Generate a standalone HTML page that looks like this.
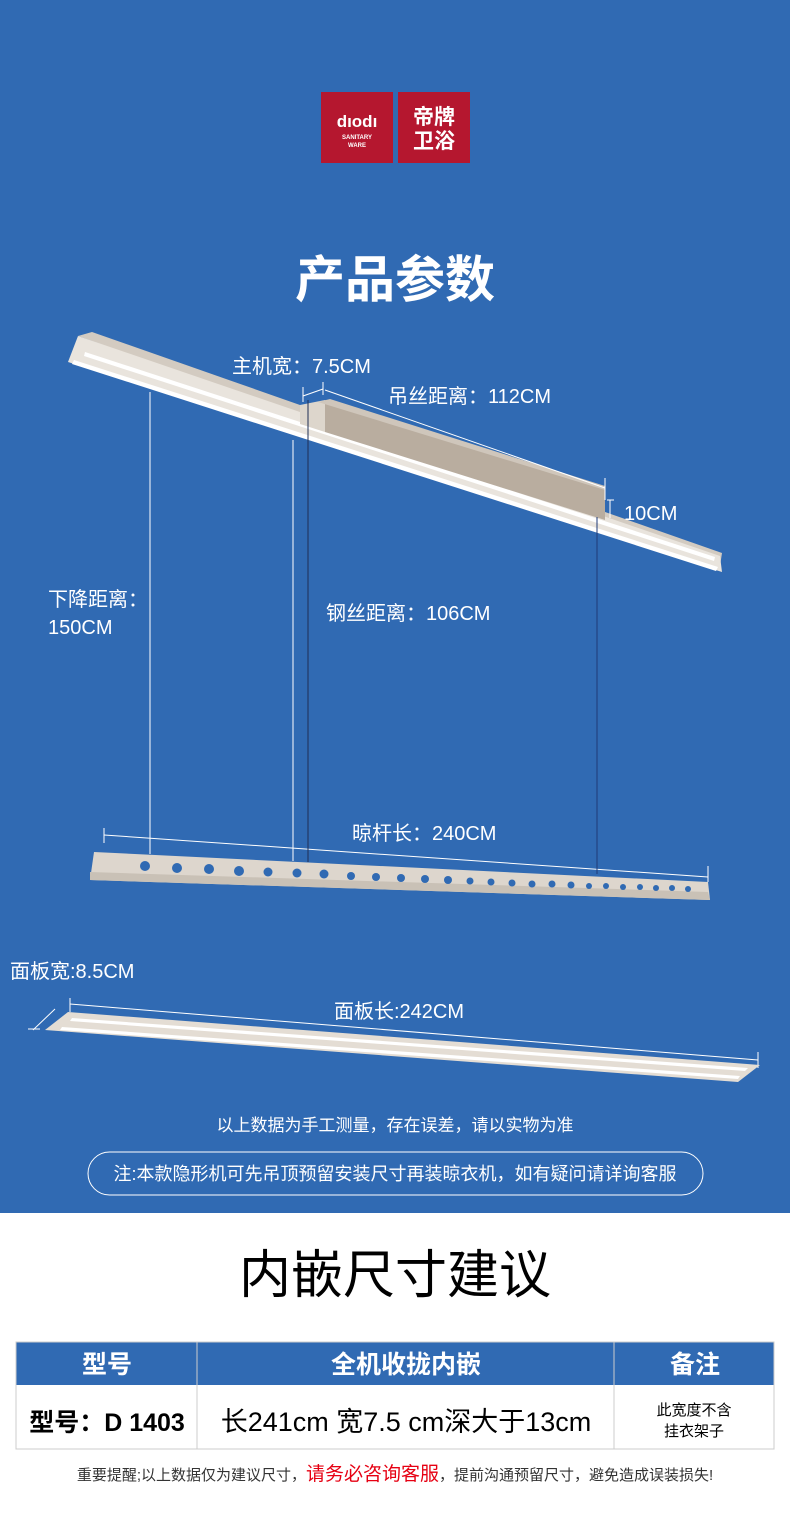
<!DOCTYPE html>
<html><head><meta charset="utf-8"><style>
body{margin:0;width:790px;height:1512px;overflow:hidden;background:#fff;font-family:"Liberation Sans","Noto Sans CJK SC",sans-serif}
svg text{font-family:"Liberation Sans","Noto Sans CJK SC",sans-serif}
</style></head><body>
<svg width="790" height="1512" viewBox="0 0 790 1512" xmlns="http://www.w3.org/2000/svg">
<rect x="0" y="0" width="790" height="1213" fill="#306ab3"/>
<rect x="0" y="1213" width="790" height="299" fill="#fff"/>
<!-- logo -->
<rect x="321" y="92" width="72" height="71" fill="#b5172f"/>
<rect x="398" y="92" width="72" height="71" fill="#b5172f"/>
<text x="357" y="127" fill="#fff" font-size="17" font-weight="bold" text-anchor="middle">dıodı</text>
<text x="357" y="139" fill="#fff" font-size="6" font-weight="bold" text-anchor="middle">SANITARY</text>
<text x="357" y="147" fill="#fff" font-size="6" font-weight="bold" text-anchor="middle">WARE</text>
<text x="434" y="124" fill="#fff" font-size="21" font-weight="bold" text-anchor="middle">帝牌</text>
<text x="434" y="148" fill="#fff" font-size="21" font-weight="bold" text-anchor="middle">卫浴</text>
<text x="395" y="297" fill="#fff" font-size="50" font-weight="bold" text-anchor="middle">产品参数</text>
<!-- top rail -->
<polygon points="78,336 92,332 722,553 720,566" fill="#d3cbc1"/>
<polygon points="68,362 78,336 720,556 722,572" fill="#e9e4dd"/>
<polygon points="74,360 718,567 716,571 72,364" fill="#fff"/>
<polygon points="85,352 715,557 714,561 84,356" fill="#fff"/>
<polygon points="300,405 325,400 325,432 300,424" fill="#ddd6cc"/>
<polygon points="325,400 605,488 605,520 325,432" fill="#b9ad9f"/>
<polygon points="318,402 330,399 605,486 605,490" fill="#cfc6bb"/>
<!-- dims top -->
<g stroke="#fff" stroke-width="1" fill="none">
<polyline points="303,387 303,402"/>
<polyline points="323,382 323,395"/>
<line x1="303" y1="396" x2="323" y2="389"/>
<line x1="325" y1="390" x2="605" y2="488"/>
<line x1="605" y1="478" x2="605" y2="500"/>
<line x1="607" y1="500" x2="614" y2="500"/>
<line x1="610" y1="500" x2="610" y2="518"/>
<line x1="104" y1="828" x2="104" y2="843"/>
<line x1="104" y1="835" x2="708" y2="877"/>
<line x1="708" y1="866" x2="708" y2="882"/>
<line x1="150" y1="392" x2="150" y2="854"/>
<line x1="293" y1="440" x2="293" y2="861"/>
<line x1="70" y1="998" x2="70" y2="1012"/>
<line x1="70" y1="1004" x2="758" y2="1060"/>
<line x1="758" y1="1052" x2="758" y2="1068"/>
<line x1="33" y1="1030" x2="55" y2="1009"/>
<line x1="28" y1="1029" x2="40" y2="1029"/>
</g>
<line x1="308" y1="400" x2="308" y2="862" stroke="#1f2f55" stroke-width="1"/>
<line x1="597" y1="517" x2="597" y2="874" stroke="#1f3a77" stroke-width="1"/>
<g fill="#fff" font-size="20">
<text x="232" y="373">主机宽：7.5CM</text>
<text x="388" y="403">吊丝距离：112CM</text>
<text x="624" y="520">10CM</text>
<text x="48" y="606">下降距离：</text>
<text x="48" y="634">150CM</text>
<text x="326" y="620">钢丝距离：106CM</text>
<text x="352" y="840">晾杆长：240CM</text>
<text x="10" y="978">面板宽:8.5CM</text>
<text x="334" y="1018">面板长:242CM</text>
</g>
<!-- lower bar -->
<polygon points="94,852 708,882 710,900 90,880" fill="#ddd6cd"/>
<polygon points="90,872 708,892 710,900 90,880" fill="#c9c1b6"/>
<g fill="#306ab3">
<circle cx="145" cy="866" r="5"/><circle cx="177" cy="868" r="5"/><circle cx="209" cy="869" r="5"/><circle cx="239" cy="871" r="5"/><circle cx="268" cy="872" r="4.5"/><circle cx="297" cy="873" r="4.5"/><circle cx="324" cy="874" r="4.5"/><circle cx="351" cy="876" r="4"/><circle cx="376" cy="877" r="4"/><circle cx="401" cy="878" r="4"/><circle cx="425" cy="879" r="4"/><circle cx="448" cy="880" r="4"/><circle cx="470" cy="881" r="3.5"/><circle cx="491" cy="882" r="3.5"/><circle cx="512" cy="883" r="3.5"/><circle cx="532" cy="884" r="3.5"/><circle cx="552" cy="884" r="3.5"/><circle cx="571" cy="885" r="3.5"/><circle cx="589" cy="886" r="3"/><circle cx="606" cy="886" r="3"/><circle cx="623" cy="887" r="3"/><circle cx="640" cy="887" r="3"/><circle cx="656" cy="888" r="3"/><circle cx="672" cy="888" r="3"/><circle cx="688" cy="889" r="3"/>
</g>
<!-- panel -->
<polygon points="68,1012 760,1065 738,1082 45,1030" fill="#e4ddd4"/>
<polygon points="72,1018 748,1068 745,1071 70,1021" fill="#fff"/>
<polygon points="62,1027 740,1076 738,1079 60,1030" fill="#fff"/>
<text x="395" y="1131" fill="#fff" font-size="17" text-anchor="middle">以上数据为手工测量，存在误差，请以实物为准</text>
<rect x="88" y="1152" width="615" height="43" rx="21.5" fill="none" stroke="#fff" stroke-width="1"/>
<text x="395" y="1180" fill="#fff" font-size="18" text-anchor="middle">注:本款隐形机可先吊顶预留安装尺寸再装晾衣机，如有疑问请详询客服</text>
<text x="395" y="1293" fill="#000" font-size="52" text-anchor="middle">内嵌尺寸建议</text>
<!-- table -->
<rect x="16" y="1342" width="758" height="43" fill="#306ab3"/>
<rect x="16" y="1342" width="758" height="107" fill="none" stroke="#ccc" stroke-width="1"/>
<line x1="197" y1="1342" x2="197" y2="1449" stroke="#ccc"/>
<line x1="614" y1="1342" x2="614" y2="1449" stroke="#ccc"/>
<g fill="#fff" font-size="25" font-weight="bold" text-anchor="middle">
<text x="107" y="1373">型号</text><text x="406" y="1373">全机收拢内嵌</text><text x="695" y="1373">备注</text>
</g>
<text x="107" y="1431" font-size="25" font-weight="bold" text-anchor="middle">型号：D 1403</text>
<text x="406" y="1431" font-size="27" text-anchor="middle">长241cm 宽7.5 cm深大于13cm</text>
<text x="694" y="1415" font-size="15" text-anchor="middle">此宽度不含</text>
<text x="694" y="1436" font-size="15" text-anchor="middle">挂衣架子</text>
<text x="395" y="1480" font-size="15" fill="#333" text-anchor="middle">重要提醒;以上数据仅为建议尺寸，<tspan fill="#e60012" font-size="19">请务必咨询客服</tspan>，提前沟通预留尺寸，避免造成误装损失!</text>
</svg>
</body></html>
